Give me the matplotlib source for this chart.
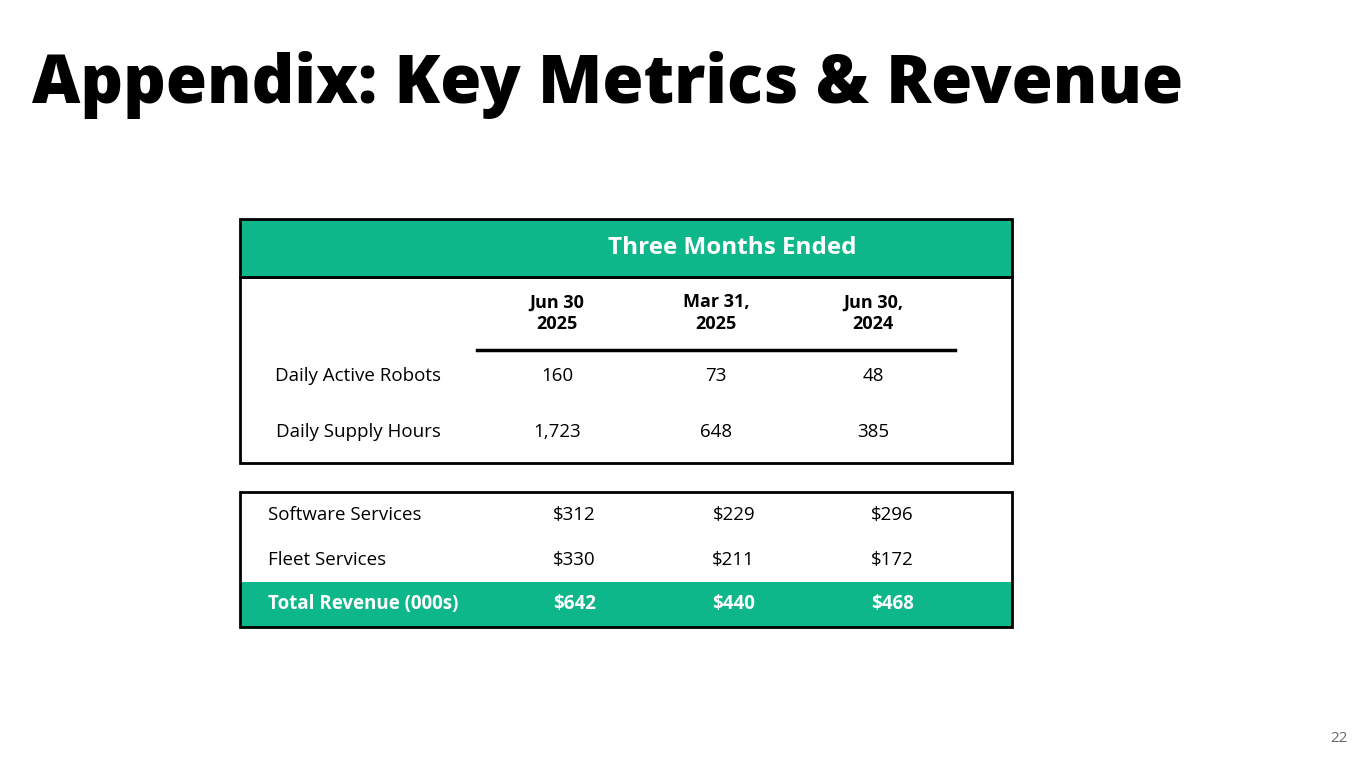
import matplotlib.pyplot as plt
from matplotlib.patches import Rectangle
from matplotlib.lines import Line2D

GREEN = '#0DB78A'
W, H = 1365, 768

col_headers = ['Jun 30\n2025', 'Mar 31,\n2025', 'Jun 30,\n2024']
metric_labels = ['Daily Active Robots', 'Daily Supply Hours']
metric_values = [['160', '73', '48'], ['1,723', '648', '385']]
revenue_labels = ['Software Services', 'Fleet Services']
revenue_values = [['$312', '$229', '$296'], ['$330', '$211', '$172']]
total_label = 'Total Revenue (000s)'
total_values = ['$642', '$440', '$468']

fig = plt.figure(figsize=(W / 100, H / 100), dpi=100)
ax = fig.add_axes([0, 0, 1, 1])
ax.set_xlim(0, W)
ax.set_ylim(H, 0)
ax.axis('off')

plt.rcParams['font.family'] = ['Open Sans', 'DejaVu Sans']

ax.text(32, 85, 'Appendix: Key Metrics & Revenue', fontsize=48, fontweight='heavy',
        va='center', ha='left')
ax.text(1348, 739, '22', fontsize=11, color='#666666', ha='right', va='center')

# top box
ax.add_patch(Rectangle((240, 277), 772, 186, fill=False, lw=2, ec='black'))
ax.add_patch(Rectangle((240, 219), 772, 58, fc=GREEN, ec='black', lw=2))
ax.text(732, 248, 'Three Months Ended', color='white', fontsize=17.5, fontweight='bold',
        ha='center', va='center')

cols = [557, 716, 873]
for x, h in zip(cols, col_headers):
    ax.text(x, 313, h, fontsize=13, fontweight='bold', ha='center', va='center',
            linespacing=1.25)
ax.add_line(Line2D([477, 955], [350, 350], color='black', lw=2.5))

for i, (lab, vals) in enumerate(zip(metric_labels, metric_values)):
    y = 376 + i * 56
    ax.text(358, y, lab, fontsize=13.5, ha='center', va='center')
    for x, v in zip(cols, vals):
        ax.text(x, y, v, fontsize=13.5, ha='center', va='center')

# revenue box
ax.add_patch(Rectangle((240, 582), 772, 45, fc=GREEN, ec='none'))
ax.add_patch(Rectangle((240, 492), 772, 135, fill=False, lw=2, ec='black'))
rcols = [596, 755, 914]
for i, (lab, vals) in enumerate(zip(revenue_labels, revenue_values)):
    y = 515 + i * 45
    ax.text(268, y, lab, fontsize=13.5, ha='left', va='center')
    for x, v in zip(rcols, vals):
        ax.text(x, y, v, fontsize=13.5, ha='right', va='center')
ax.text(268, 604, total_label, fontsize=13.5, fontweight='bold', color='white',
        ha='left', va='center')
for x, v in zip(rcols, total_values):
    ax.text(x, 604, v, fontsize=13.5, fontweight='bold', color='white', ha='right', va='center')

fig.savefig('out.png', dpi=100)
